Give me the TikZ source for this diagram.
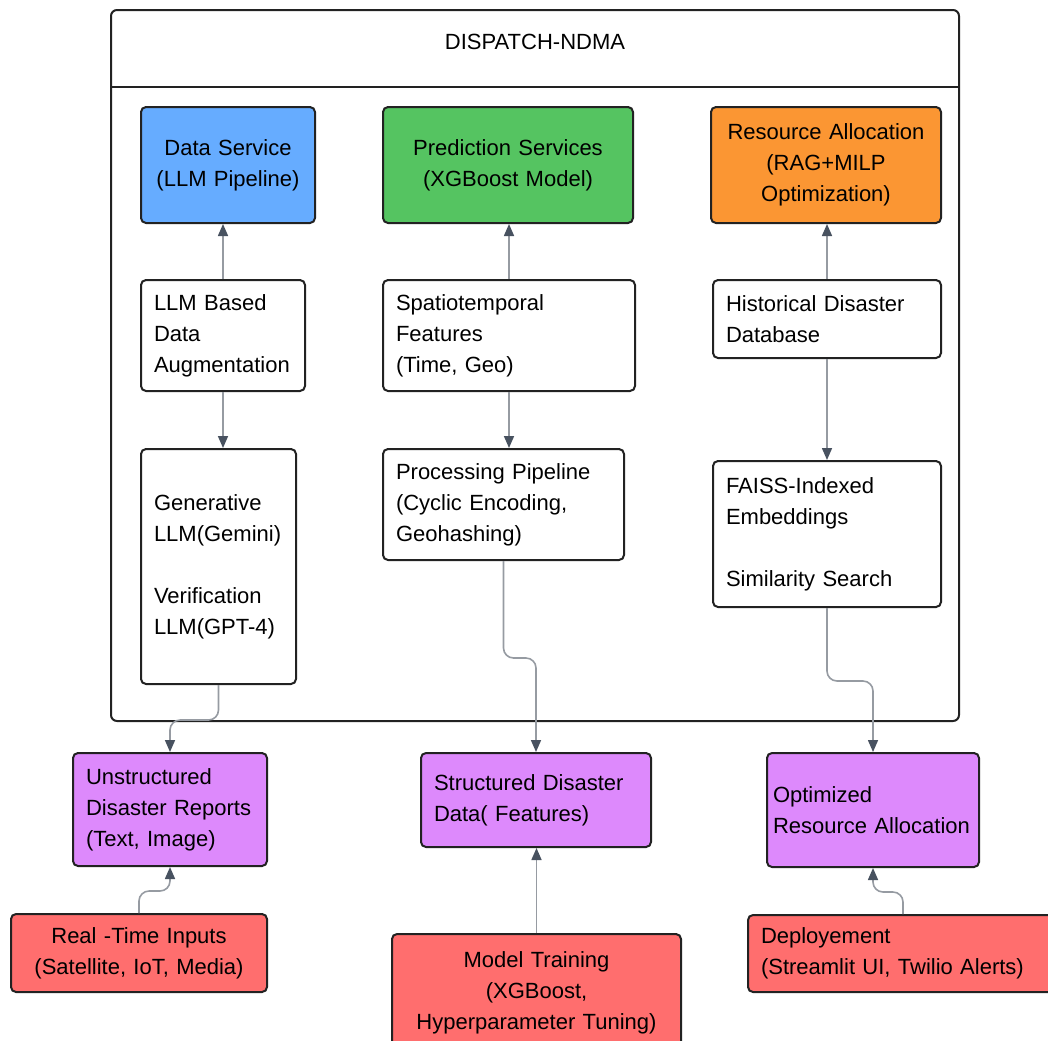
\documentclass[tikz,border=0pt]{standalone}
\usepackage{fontspec}
\setmainfont{Liberation Sans}
\usetikzlibrary{arrows.meta}
\definecolor{svcblue}{RGB}{102,172,255}
\definecolor{svcgreen}{RGB}{85,196,97}
\definecolor{svcorange}{RGB}{251,150,51}
\definecolor{outpurple}{RGB}{221,137,252}
\definecolor{inred}{RGB}{255,110,110}
\definecolor{edgedark}{RGB}{34,34,34}
\definecolor{linkgray}{RGB}{150,155,162}
\definecolor{tipgray}{RGB}{72,82,96}
\begin{document}
\begin{tikzpicture}[x=0.5pt, y=-0.5pt,
  font=\fontsize{11}{15.5}\selectfont,
  box/.style={draw=edgedark, line width=1pt, rounded corners=2.5pt, anchor=north west, inner xsep=6.5pt, inner ysep=0pt, align=left},
  mid/.style={box, align=center},
  link/.style={draw=linkgray, line width=0.8pt, rounded corners=5pt, -{Triangle[length=6pt, width=5pt, color=tipgray]}}]
  \useasboundingbox (0,0) rectangle (1048,1040);
  % container
  \draw [edgedark, line width=1pt, rounded corners=3pt] (111,10) rectangle (959,721);
  \draw [edgedark, line width=1pt] (111,87) -- (959,87);
  \node (title) at (535,42) {DISPATCH-NDMA};
  % services
  \node[mid, fill=svcblue, minimum width=87pt, minimum height=58pt, text width=74pt] (dataSvc) at (140,106) {Data Service\\(LLM Pipeline)};
  \node[mid, fill=svcgreen, minimum width=125pt, minimum height=58pt, text width=112pt] (predSvc) at (382,106) {Prediction Services\\(XGBoost Model)};
  \node[mid, fill=svcorange, minimum width=115pt, minimum height=58pt, text width=102pt] (resAlloc) at (710,106) {Resource Allocation\\(RAG+MILP\\Optimization)};
  % inner steps
  \node[box, fill=white, minimum width=82pt, minimum height=55.5pt, text width=69pt] (llmAug) at (140,279) {LLM Based\\Data\\Augmentation};
  \node[box, fill=white, minimum width=126pt, minimum height=55.5pt, text width=113pt] (spatio) at (382,279) {Spatiotemporal\\Features\\(Time, Geo)};
  \node[box, fill=white, minimum width=114pt, minimum height=39pt, text width=101pt] (histDb) at (712,279) {Historical Disaster\\Database};
  \node[box, fill=white, minimum width=77.5pt, minimum height=117.5pt, text width=64.5pt] (genLlm) at (140,448) {Generative\\LLM(Gemini)\\[15.5pt]Verification\\LLM(GPT-4)};
  \node[box, fill=white, minimum width=120.5pt, minimum height=55.5pt, text width=107.5pt] (procPipe) at (382,448) {Processing Pipeline\\(Cyclic Encoding,\\Geohashing)};
  \node[box, fill=white, minimum width=114pt, minimum height=73pt, text width=101pt] (faiss) at (712,460) {FAISS-Indexed\\Embeddings\\[15.5pt]Similarity Search};
  % outputs
  \node[box, fill=outpurple, minimum width=97pt, minimum height=56.5pt, text width=84pt] (unstruct) at (72,752) {Unstructured\\Disaster Reports\\(Text, Image)};
  \node[box, fill=outpurple, minimum width=115pt, minimum height=47pt, text width=102pt] (structData) at (420,752) {Structured Disaster\\Data( Features)};
  \node[box, fill=outpurple, inner xsep=3pt, minimum width=106pt, minimum height=57pt, text width=100pt] (optAlloc) at (766,752) {Optimized\\Resource Allocation};
  % inputs
  \node[mid, fill=inred, minimum width=128pt, minimum height=39pt, text width=115pt] (realTime) at (10,913) {Real -Time Inputs\\(Satellite, IoT, Media)};
  \node[mid, fill=inred, minimum width=144.5pt, minimum height=59pt, text width=131.5pt] (modelTrain) at (391,933) {Model Training\\(XGBoost,\\Hyperparameter Tuning)};
  \node[box, fill=inred, minimum width=155pt, minimum height=38.5pt, text width=142pt] (deploy) at (747,914) {Deployement\\(Streamlit UI, Twilio Alerts)};
  % connectors
  \draw[link] (llmAug.north) -- (llmAug.north |- dataSvc.south);
  \draw[link] (llmAug.south) -- (llmAug.south |- genLlm.north);
  \draw[link] (spatio.north) -- (spatio.north |- predSvc.south);
  \draw[link] (spatio.south) -- (spatio.south |- procPipe.north);
  \draw[link] (histDb.north) -- (histDb.north |- resAlloc.south);
  \draw[link] (histDb.south) -- (faiss.north);
  \draw[link] (genLlm.south) -- ++(0,35) -| (unstruct.north);
  \draw[link] (procPipe.south) -- ++(0,97) -| (structData.north);
  \draw[link] (faiss.south) -- ++(0,73) -| (optAlloc.north);
  \draw[link] (realTime.north) -- ++(0,-22) -| (unstruct.south);
  \draw[link] (modelTrain.north) -- (modelTrain.north |- structData.south);
  \draw[link] (deploy.north) -- ++(0,-22) -| (optAlloc.south);
\end{tikzpicture}
\end{document}
